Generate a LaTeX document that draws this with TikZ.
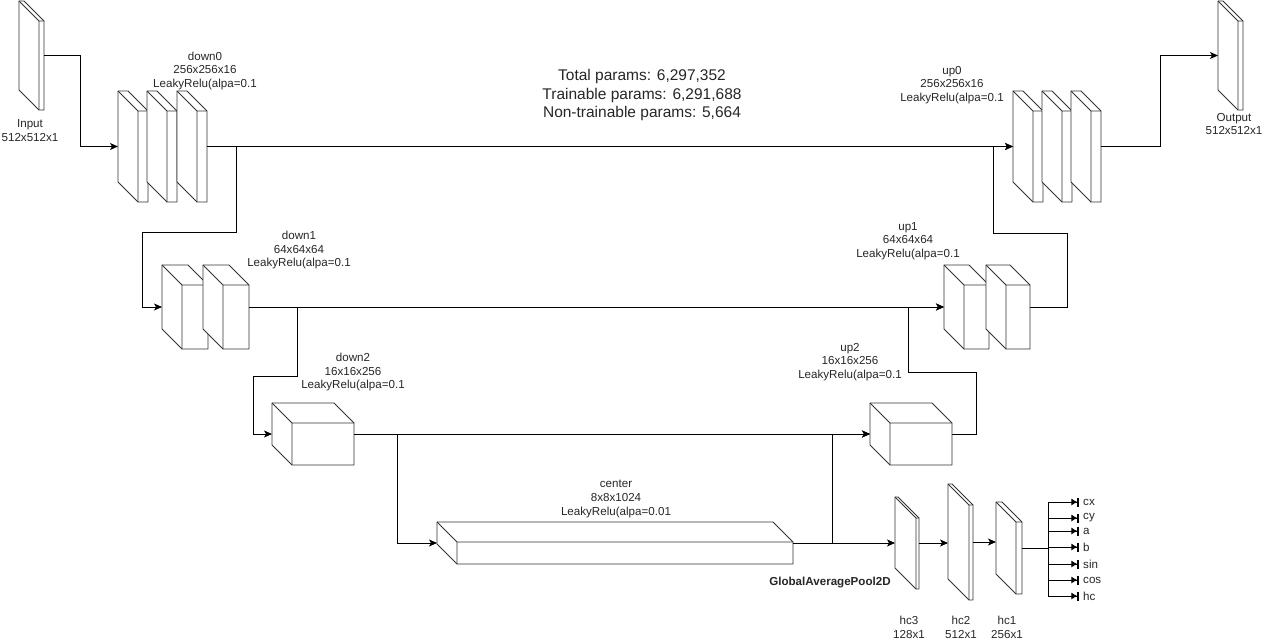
\documentclass[tikz,border=0pt]{standalone}
\usepackage{fontspec}
\setmainfont{Liberation Sans}
\usetikzlibrary{arrows.meta}

% one 3D block: name, left, top, width, height, depth
\newcommand{\cubelayer}[6]{%
  \node[layer, minimum width=#4pt, minimum height=#5pt] (#1) at ({#2+#4/2},{#3+#5/2}) {};
  \draw[cube edge, fill=white] (#1.north west) -- ([xshift=-#6pt]#1.north east)
    -- ([yshift=-#6pt]#1.north east) -- (#1.south east) -- ([xshift=#6pt]#1.south west)
    -- ([yshift=#6pt]#1.south west) -- cycle;
  \draw[cube edge] (#1.north west) -- ([xshift=#6pt,yshift=-#6pt]#1.north west)
    -- ([yshift=-#6pt]#1.north east)
    ([xshift=#6pt,yshift=-#6pt]#1.north west) -- ([xshift=#6pt]#1.south west);
}

\begin{document}
\begin{tikzpicture}[
  x=1pt, y=-1pt,
  every node/.style={font=\fontsize{11.6}{13.7}\selectfont, text=black!85},
  layer/.style={inner sep=0pt, outer sep=0pt},
  cube edge/.style={draw=black!80, line width=0.9pt, line join=round},
  tag/.style={align=center, inner sep=0pt},
  flow/.style={line width=0.9pt, -{Stealth[length=8pt,width=7pt,inset=2pt]}},
  head/.style={line width=0.9pt, -{Latex[length=6pt,width=7pt]Bar[width=9pt,line width=1.6pt]}, shorten >=2pt}
]
  \useasboundingbox (0,0) rectangle (1267,642);

  % encoder
  \cubelayer{input}{19}{1}{25}{109}{20}
  \cubelayer{down0a}{118}{91}{30}{111}{20}
  \cubelayer{down0b}{147}{91}{30}{111}{20}
  \cubelayer{down0c}{177}{91}{30}{111}{20}
  \cubelayer{down1a}{162}{265}{46}{84}{20}
  \cubelayer{down1b}{203}{265}{46}{84}{20}
  \cubelayer{down2}{272}{403}{82}{62}{20}
  \cubelayer{center}{437}{522}{356}{42}{20}

  % decoder
  \cubelayer{up2}{870}{403}{82}{62}{20}
  \cubelayer{up1a}{944}{265}{45}{84}{20}
  \cubelayer{up1b}{986}{265}{44}{84}{20}
  \cubelayer{up0a}{1013}{91}{30}{111}{20}
  \cubelayer{up0b}{1042}{91}{30}{111}{20}
  \cubelayer{up0c}{1071}{91}{30}{111}{20}
  \cubelayer{output}{1218}{1}{25}{109}{20}

  % head
  \cubelayer{hc3}{895}{497}{24}{92}{21}
  \cubelayer{hc2}{948}{484}{25}{116}{21}
  \cubelayer{hc1}{996}{502}{26}{92}{20}

  % texts
  \node[tag] (input-label) at (30,130.5) {Input\\512x512x1};
  \node[tag] (output-label) at (1234,124) {Output\\512x512x1};
  \node[tag] (down0-label) at (205,71) {down0\\256x256x16\\LeakyRelu(alpa=0.1};
  \node[tag] (down1-label) at (299,250) {down1\\64x64x64\\LeakyRelu(alpa=0.1};
  \node[tag] (down2-label) at (353,372) {down2\\16x16x256\\LeakyRelu(alpa=0.1};
  \node[tag] (center-label) at (616,499) {center\\8x8x1024\\LeakyRelu(alpa=0.01};
  \node[tag] (up2-label) at (850,362) {up2\\16x16x256\\LeakyRelu(alpa=0.1};
  \node[tag] (up1-label) at (908,241) {up1\\64x64x64\\LeakyRelu(alpa=0.1};
  \node[tag] (up0-label) at (952,85) {up0\\256x256x16\\LeakyRelu(alpa=0.1};
  \node[tag, font=\fontsize{15.5}{18.5}\selectfont] (params) at (642,95)
    {Total params: 6,297,352\\Trainable params: 6,291,688\\Non-trainable params: 5,664};
  \node[tag, font=\fontsize{11.6}{13.7}\selectfont\bfseries] (gap) at (830,583) {GlobalAveragePool2D};
  \node[tag] (hc3-label) at (909,627.5) {hc3\\128x1};
  \node[tag] (hc2-label) at (961,627.5) {hc2\\512x1};
  \node[tag] (hc1-label) at (1007,627.5) {hc1\\256x1};

  % skip and main paths
  \draw[flow] (input.east) -- ++(36,0) |- (down0a.west);
  \draw[flow] (down0c.east) -- (up0a.west);
  \draw[flow] (down0c.east) -- ++(29,0) |- ++(-94,86) |- (down1a.west);
  \draw[flow] (down1b.east) -- (up1a.west);
  \draw[flow] (down1b.east) -- ++(48,0) |- ++(-44,69) |- (down2.west);
  \draw[flow] (down2.east) -- (up2.west);
  \draw[flow] (down2.east) -- ++(43,0) |- (center.west);
  \draw[flow] (center.east) -- (hc3.west);
  \draw[flow] (center.east) -- ++(39,0) |- (up2.west);
  \draw[flow] (up2.east) -- ++(24,0) |- ++(-68,-62) |- (up1a.west);
  \draw[flow] (up1b.east) -- ++(37,0) |- ++(-74,-74) |- (up0a.west);
  \draw[flow] (up0c.east) -- ++(59,0) |- (output.west);
  \draw[flow] (hc3.east) -- (hc3.east -| hc2.west);
  \draw[flow] (hc2.east) -- (hc2.east -| hc1.west);

  % outputs of the head
  \coordinate (split) at (1048,548);
  \draw[line width=0.9pt] (hc1.east) -- (split);
  \foreach \name/\yy in {cx/502, cy/518, a/531, b/547, sin/564, cos/580, hc/596}
    \node[anchor=west, inner sep=2pt] (out-\name) at (1081,\yy) {\name};
  \draw[line width=0.9pt] (split |- out-cx.west) -- (split |- out-hc.west);
  \foreach \name in {cx, cy, a, b, sin, cos, hc}
    \draw[head] (split |- out-\name.west) -- (out-\name.west);
\end{tikzpicture}
\end{document}
